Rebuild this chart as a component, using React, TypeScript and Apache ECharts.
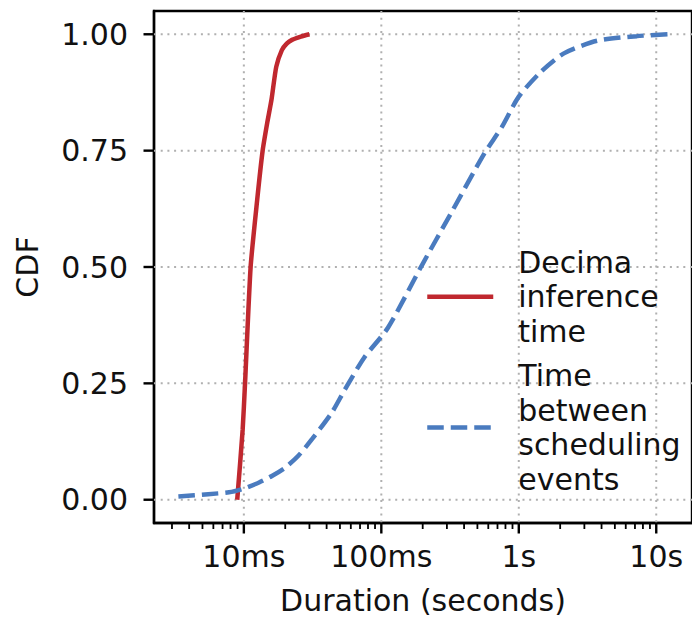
import React, { useEffect, useRef } from 'react';
import * as echarts from 'echarts';

const X_MIN = 0.00222;
const X_MAX = 18.2;
const Y_MIN = -0.05;
const Y_MAX = 1.05;

const X_TICKS = [0.01, 0.1, 1, 10];
const X_TICK_LABELS = ['10ms', '100ms', '1s', '10s'];
const X_MINOR_DECADES = [0.001, 0.01, 0.1, 1, 10];
const Y_TICKS = [0, 0.25, 0.5, 0.75, 1];
const Y_TICK_LABELS = ['0.00', '0.25', '0.50', '0.75', '1.00'];

const RED_NAME = 'Decima\ninference\ntime';
const BLUE_NAME = 'Time\nbetween\nscheduling\nevents';

const RED_X = [0.00895, 0.0098, 0.0102, 0.0112, 0.0125, 0.0137, 0.0148, 0.0159, 0.0172, 0.0189, 0.0205, 0.0224, 0.026, 0.03];
const RED_Y = [0, 0.15, 0.25, 0.5, 0.644, 0.75, 0.81, 0.86, 0.93, 0.966, 0.98, 0.988, 0.995, 1.0];

const BLUE_X = [0.00334, 0.0055, 0.0078, 0.01, 0.0129, 0.016, 0.02, 0.025, 0.0313, 0.0436, 0.0544, 0.075, 0.112, 0.195, 0.322, 0.562, 0.75, 1.0, 1.445, 2.13, 3.72, 7.24, 12.1];
const BLUE_Y = [0.007, 0.012, 0.016, 0.024, 0.037, 0.051, 0.069, 0.095, 0.13, 0.187, 0.237, 0.305, 0.37, 0.501, 0.616, 0.744, 0.8, 0.866, 0.919, 0.959, 0.986, 0.996, 1.0];

const RED = '#c0282f';
const BLUE = '#4a7bbf';
const FONT = 'DejaVu Sans';
const GRID_COLOR = '#b0b0b0';

export default function App() {
  const ref = useRef<HTMLDivElement>(null);

  useEffect(() => {
    if (!ref.current) return;
    const chart = echarts.init(ref.current, undefined, { renderer: 'svg' });

    const minorTicks: number[] = [];
    X_MINOR_DECADES.forEach((d) => {
      for (let k = 2; k <= 9; k++) {
        const v = k * d;
        if (v > X_MIN && v < X_MAX) minorTicks.push(v);
      }
    });

    const xLabel = (v: number) => {
      for (let i = 0; i < X_TICKS.length; i++) {
        if (Math.abs(Math.log10(v) - Math.log10(X_TICKS[i])) < 1e-6) return X_TICK_LABELS[i];
      }
      return '';
    };
    const yLabel = (v: number) => {
      for (let i = 0; i < Y_TICKS.length; i++) {
        if (Math.abs(v - Y_TICKS[i]) < 1e-6) return Y_TICK_LABELS[i];
      }
      return '';
    };

    const option: any = {
      animation: false,
      backgroundColor: '#ffffff',
      grid: {
        left: 154,
        top: 11,
        width: 541,
        height: 513,
        show: true,
        borderColor: '#000',
        borderWidth: 2.4,
        backgroundColor: 'transparent',
      },
      legend: {
        orient: 'vertical',
        left: 420,
        top: 240,
        itemWidth: 66,
        itemHeight: 14,
        itemGap: 10,
        selectedMode: false,
        data: [RED_NAME, BLUE_NAME],
        itemStyle: { opacity: 0 },
        lineStyle: { width: 4.5 },
        textStyle: {
          fontFamily: FONT,
          fontSize: 30,
          color: '#111',
          lineHeight: 34.5,
          padding: [0, 0, 0, 20],
        },
      },
      xAxis: {
        type: 'log',
        logBase: 10,
        min: X_MIN,
        max: X_MAX,
        name: 'Duration (seconds)',
        nameLocation: 'middle',
        nameGap: 62,
        nameTextStyle: { fontFamily: FONT, fontSize: 30, color: '#111' },
        axisLine: { show: true, onZero: false, lineStyle: { color: '#000', width: 2.4 } },
        axisTick: { show: false },
        minorTick: { show: false },
        splitLine: { show: false },
        axisLabel: {
          formatter: xLabel,
          showMinLabel: false,
          showMaxLabel: false,
          margin: 18,
          fontFamily: FONT,
          fontSize: 30,
          color: '#111',
        },
      },
      yAxis: {
        type: 'value',
        min: Y_MIN,
        max: Y_MAX,
        interval: 0.05,
        name: 'CDF',
        nameLocation: 'middle',
        nameGap: 112,
        nameTextStyle: { fontFamily: FONT, fontSize: 30, color: '#111' },
        axisLine: { show: true, onZero: false, lineStyle: { color: '#000', width: 2.4 } },
        axisTick: { show: false },
        splitLine: { show: false },
        axisLabel: {
          formatter: yLabel,
          margin: 26,
          fontFamily: FONT,
          fontSize: 30,
          color: '#111',
        },
      },
      series: [
        {
          type: 'custom',
          name: 'xgrid',
          clip: false,
          z: 1,
          silent: true,
          data: X_TICKS.map((v) => [v, 0]),
          renderItem: (_p: any, api: any) => {
            const v = api.value(0);
            const top = api.coord([v, Y_MAX]);
            const bot = api.coord([v, Y_MIN]);
            return {
              type: 'group',
              children: [
                {
                  type: 'line',
                  shape: { x1: top[0], y1: top[1], x2: bot[0], y2: bot[1] },
                  style: { stroke: GRID_COLOR, lineWidth: 2, lineDash: [2, 4.7] },
                },
                {
                  type: 'line',
                  shape: { x1: bot[0], y1: bot[1], x2: bot[0], y2: bot[1] + 10.5 },
                  style: { stroke: '#000', lineWidth: 2.4 },
                },
              ],
            };
          },
        },
        {
          type: 'custom',
          name: 'xminor',
          clip: false,
          z: 1,
          silent: true,
          data: minorTicks.map((v) => [v, 0]),
          renderItem: (_p: any, api: any) => {
            const v = api.value(0);
            const bot = api.coord([v, Y_MIN]);
            return {
              type: 'line',
              shape: { x1: bot[0], y1: bot[1], x2: bot[0], y2: bot[1] + 6 },
              style: { stroke: '#000', lineWidth: 1.8 },
            };
          },
        },
        {
          type: 'custom',
          name: 'ygrid',
          clip: false,
          z: 1,
          silent: true,
          data: Y_TICKS.map((v) => [X_MIN, v]),
          renderItem: (_p: any, api: any) => {
            const v = api.value(1);
            const l = api.coord([X_MIN, v]);
            const r = api.coord([X_MAX, v]);
            return {
              type: 'group',
              children: [
                {
                  type: 'line',
                  shape: { x1: l[0], y1: l[1], x2: r[0], y2: r[1] },
                  style: { stroke: GRID_COLOR, lineWidth: 2, lineDash: [2, 4.7] },
                },
                {
                  type: 'line',
                  shape: { x1: l[0] - 10.5, y1: l[1], x2: l[0], y2: l[1] },
                  style: { stroke: '#000', lineWidth: 2.4 },
                },
              ],
            };
          },
        },
        {
          type: 'line',
          name: RED_NAME,
          data: RED_X.map((x, i) => [x, RED_Y[i]]),
          symbol: 'none',
          showSymbol: false,
          smooth: 0.2,
          z: 5,
          itemStyle: { color: RED },
          lineStyle: { color: RED, width: 4.5, cap: 'butt' },
        },
        {
          type: 'line',
          name: BLUE_NAME,
          data: BLUE_X.map((x, i) => [x, BLUE_Y[i]]),
          symbol: 'none',
          showSymbol: false,
          smooth: 0.25,
          z: 5,
          itemStyle: { color: BLUE },
          lineStyle: { color: BLUE, width: 4.5, type: [16.5, 7], cap: 'butt' },
        },
      ],
    };

    chart.setOption(option);
    return () => chart.dispose();
  }, []);

  return (
    <div
      ref={ref}
      style={{ position: 'absolute', left: 0, top: 0, width: 692, height: 620, background: '#fff' }}
    />
  );
}
